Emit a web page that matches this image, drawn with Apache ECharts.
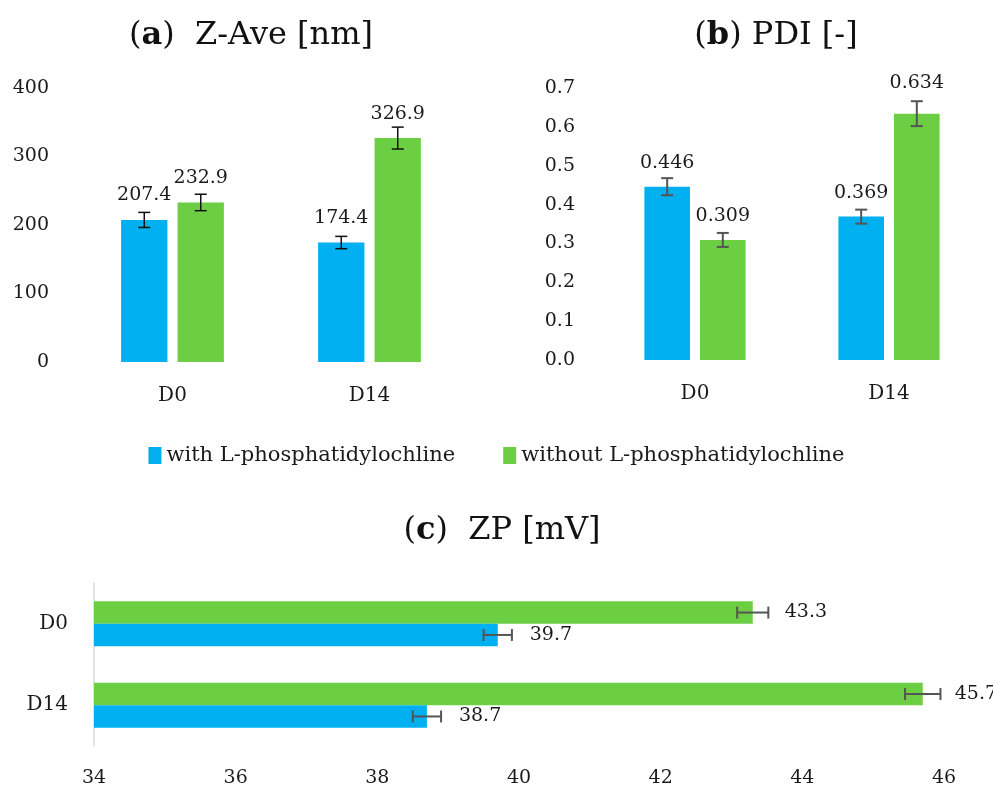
<!DOCTYPE html>
<html>
<head>
<meta charset="utf-8">
<script src="https://cdn.jsdelivr.net/npm/echarts@6/dist/echarts.min.js"></script>
<style>
  html, body { margin: 0; padding: 0; background: #fff; }
  #main { width: 993px; height: 791px; }
</style>
</head>
<body>
<div id="main"></div>
<script>
// values
const categories = ['D0', 'D14'];
const seriesNames = ['with L-phosphatidylochline', 'without L-phosphatidylochline'];

const zaveWith = [207.4, 174.4];
const zaveWithout = [232.9, 326.9];
const zaveWithErr = [11, 9];
const zaveWithoutErr = [12, 16];

const pdiWith = [0.446, 0.369];
const pdiWithout = [0.309, 0.634];
const pdiWithErr = [0.022, 0.018];
const pdiWithoutErr = [0.018, 0.032];

const zpWith = [39.7, 38.7];
const zpWithout = [43.3, 45.7];
const zpWithErr = [0.2, 0.2];
const zpWithoutErr = [0.22, 0.25];

const zaveTicks = [0, 400, 100];   // min, max, step
const pdiTicks = [0, 0.7, 0.1];
const zpTicks = [34, 46, 2];

const BLUE = '#00b0f0';
const GREEN = '#6ccf43';
const FONT = 'DejaVu Serif';

// bar layout shared by bars and error bars
const VBAR = 0.235, VGAP = 0.22;   // vertical panels
const HBAR = 0.275, HGAP = 0;      // horizontal panel

function errData(vals, errs) {
  return vals.map((v, i) => [i, v - errs[i], v + errs[i]]);
}

function errorSeries(axisIdx, vals, errs, side, horizontal, color, lw) {
  return {
    type: 'custom',
    xAxisIndex: axisIdx,
    yAxisIndex: axisIdx,
    silent: true,
    z: 10,
    encode: horizontal ? {y: 0, x: [1, 2]} : {x: 0, y: [1, 2]},
    data: errData(vals, errs),
    renderItem: function (params, api) {
      const cat = api.value(0), lo = api.value(1), hi = api.value(2);
      const cap = 6;
      const style = {stroke: color, lineWidth: lw};
      if (!horizontal) {
        const band = api.size([1, 0])[0];
        const bw = band * VBAR;
        const off = side * bw * (1 + VGAP) / 2;
        const a = api.coord([cat, lo]), b = api.coord([cat, hi]);
        const x = a[0] + off;
        return {type: 'group', children: [
          {type: 'line', shape: {x1: x, y1: a[1], x2: x, y2: b[1]}, style: style},
          {type: 'line', shape: {x1: x - cap, y1: a[1], x2: x + cap, y2: a[1]}, style: style},
          {type: 'line', shape: {x1: x - cap, y1: b[1], x2: x + cap, y2: b[1]}, style: style}
        ]};
      }
      const band = api.size([0, 1])[1];
      const bh = band * HBAR;
      const off = side * bh / 2;
      const a = api.coord([lo, cat]), b = api.coord([hi, cat]);
      const y = a[1] + off;
      return {type: 'group', children: [
        {type: 'line', shape: {x1: a[0], y1: y, x2: b[0], y2: y}, style: style},
        {type: 'line', shape: {x1: a[0], y1: y - cap, x2: a[0], y2: y + cap}, style: style},
        {type: 'line', shape: {x1: b[0], y1: y - cap, x2: b[0], y2: y + cap}, style: style}
      ]};
    }
  };
}

function valueAxis(ticks, idx, digits, margin) {
  return {
    type: 'value', gridIndex: idx,
    min: ticks[0], max: ticks[1], interval: ticks[2],
    splitLine: {show: false}, axisLine: {show: false}, axisTick: {show: false},
    axisLabel: {
      color: '#1a1a1a', fontFamily: FONT, fontSize: 19, margin: margin,
      formatter: v => v.toFixed(digits)
    }
  };
}

function catAxis(idx, extra) {
  return Object.assign({
    type: 'category', gridIndex: idx, data: categories,
    axisLine: {show: false}, axisTick: {show: false},
    axisLabel: {color: '#1a1a1a', fontFamily: FONT, fontSize: 20, margin: 24}
  }, extra || {});
}

function panelTitle(text, x, y) {
  return {
    text: text, left: x, top: y, textAlign: 'center',
    textStyle: {fontFamily: FONT, fontSize: 32, fontWeight: 'normal', color: '#111',
      rich: {b: {fontFamily: FONT, fontSize: 32, fontWeight: 'bold', color: '#111'}}}
  };
}

const labelStyle = {show: true, color: '#1a1a1a', fontFamily: FONT, fontSize: 19};

const chart = echarts.init(document.getElementById('main'));

const option = {
  backgroundColor: '#fff',
  animation: false,
  color: [BLUE, GREEN],
  title: [
    panelTitle('({b|a})  Z-Ave [nm]', 246, 15),
    panelTitle('({b|b}) PDI [-]', 771, 15),
    panelTitle('({b|c})  ZP [mV]', 497, 510)
  ],
  legend: {
    data: seriesNames,
    top: 440, left: 'center',
    itemWidth: 13, itemHeight: 17, itemGap: 48,
    icon: 'rect',
    textStyle: {fontFamily: FONT, fontSize: 21, color: '#1a1a1a'}
  },
  grid: [
    {left: 74, top: 88, width: 394, height: 274},
    {left: 598, top: 88, width: 388, height: 272},
    {left: 94, top: 583, width: 850, height: 163}
  ],
  xAxis: [
    catAxis(0),
    catAxis(1),
    valueAxis(zpTicks, 2, 0, 23)
  ],
  yAxis: [
    valueAxis(zaveTicks, 0, 0, 25),
    valueAxis(pdiTicks, 1, 1, 23),
    catAxis(2, {inverse: true,
      axisLine: {show: true, lineStyle: {color: '#d9d9d9', width: 1.5}},
      axisLabel: {color: '#1a1a1a', fontFamily: FONT, fontSize: 20, margin: 26}})
  ],
  series: [
    // (a) Z-Ave
    {name: seriesNames[0], type: 'bar', xAxisIndex: 0, yAxisIndex: 0, data: zaveWith,
     barWidth: (VBAR * 100) + '%', barGap: (VGAP * 100) + '%',
     label: Object.assign({position: 'top', distance: 15}, labelStyle)},
    {name: seriesNames[1], type: 'bar', xAxisIndex: 0, yAxisIndex: 0, data: zaveWithout,
     barWidth: (VBAR * 100) + '%', barGap: (VGAP * 100) + '%',
     label: Object.assign({position: 'top', distance: 15}, labelStyle)},
    errorSeries(0, zaveWith, zaveWithErr, -1, false, '#111', 1.5),
    errorSeries(0, zaveWithout, zaveWithoutErr, 1, false, '#111', 1.5),

    // (b) PDI
    {name: seriesNames[0], type: 'bar', xAxisIndex: 1, yAxisIndex: 1, data: pdiWith,
     barWidth: (VBAR * 100) + '%', barGap: (VGAP * 100) + '%',
     label: Object.assign({position: 'top', distance: 14, formatter: p => p.value.toFixed(3)}, labelStyle)},
    {name: seriesNames[1], type: 'bar', xAxisIndex: 1, yAxisIndex: 1,
     data: pdiWithout.map((v, i) => i === 1 ? {value: v, label: {distance: 21}} : v),
     barWidth: (VBAR * 100) + '%', barGap: (VGAP * 100) + '%',
     label: Object.assign({position: 'top', distance: 14, formatter: p => p.value.toFixed(3)}, labelStyle)},
    errorSeries(1, pdiWith, pdiWithErr, -1, false, '#555', 2),
    errorSeries(1, pdiWithout, pdiWithoutErr, 1, false, '#555', 2),

    // (c) ZP, green above blue in each row
    {name: seriesNames[1], type: 'bar', xAxisIndex: 2, yAxisIndex: 2, data: zpWithout,
     barWidth: (HBAR * 100) + '%', barGap: (HGAP * 100) + '%',
     label: Object.assign({position: 'right', distance: 32, formatter: p => p.value.toFixed(1)}, labelStyle)},
    {name: seriesNames[0], type: 'bar', xAxisIndex: 2, yAxisIndex: 2, data: zpWith,
     barWidth: (HBAR * 100) + '%', barGap: (HGAP * 100) + '%',
     label: Object.assign({position: 'right', distance: 32, formatter: p => p.value.toFixed(1)}, labelStyle)},
    errorSeries(2, zpWithout, zpWithoutErr, -1, true, '#555', 2),
    errorSeries(2, zpWith, zpWithErr, 1, true, '#555', 2)
  ]
};

chart.setOption(option);
</script>
</body>
</html>
